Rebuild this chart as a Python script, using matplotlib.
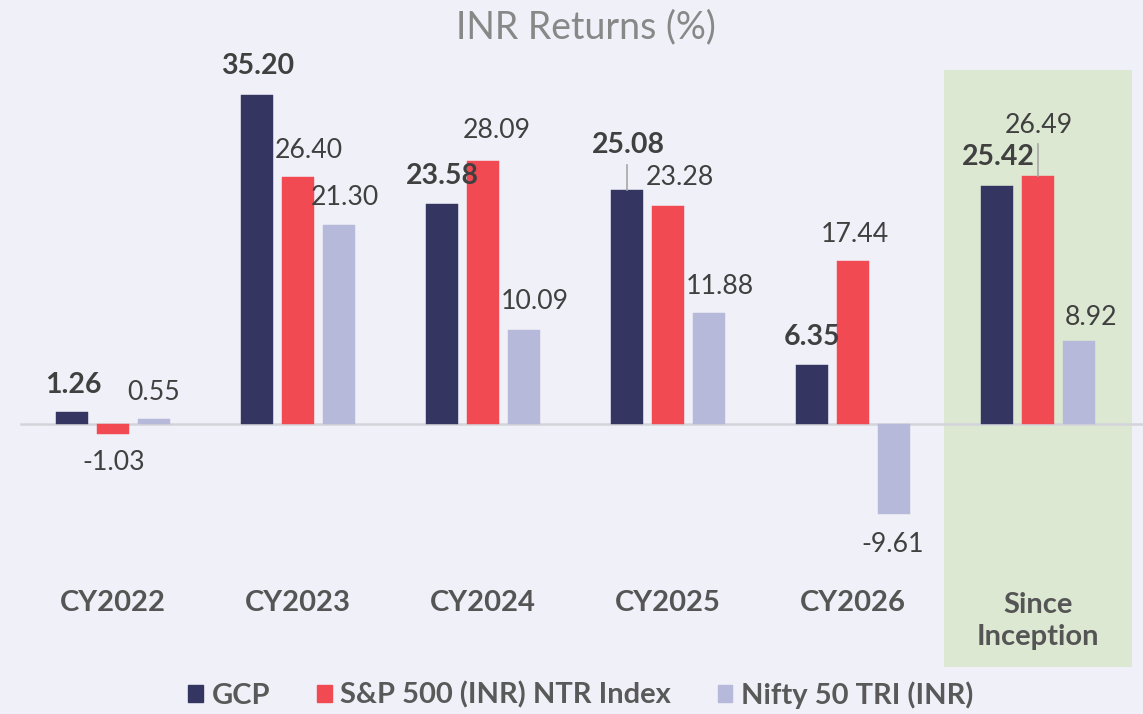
import numpy as np
import matplotlib.pyplot as plt
from matplotlib.patches import Patch, Rectangle

# --- data ---
categories = ["CY2022", "CY2023", "CY2024", "CY2025", "CY2026", "Since\nInception"]
series_names = ["GCP", "S&P 500 (INR) NTR Index", "Nifty 50 TRI (INR)"]
gcp = [1.26, 35.20, 23.58, 25.08, 6.35, 25.42]
sp500 = [-1.03, 26.40, 28.09, 23.28, 17.44, 26.49]
nifty = [0.55, 21.30, 10.09, 11.88, -9.61, 8.92]

colors = ["#343661", "#F14A52", "#B7B9DA"]
bg = "#F0F0F8"
txt = "#404040"

# label nudges in pixels (dx, distance from bar end) - hand placed like the original
nudges = [
    [(1, 27), (1, 29), (0, 28), (1, 45), (0, 28), (1, 29)],
    [(1, 29), (11, 27), (14, 31), (12, 29), (2, 26), (1, 51)],
    [(0, 26), (6, 27), (11, 28), (11, 26), (-1, 31), (12, 23)],
]
leaders = {(0, 3): 25, (1, 5): 32}  # (series, category) -> leader length px

W, H = 1143, 714
fig = plt.figure(figsize=(W / 100, H / 100), dpi=100)
fig.patch.set_facecolor(bg)
ax = fig.add_axes([0, 0, 1, 1])
ax.set_facecolor(bg)

px_per_unit = 9.35
gap = 185.0
x0_px, zero_px = 113.0, 424.0
ax.set_xlim(-x0_px / gap, (W - x0_px) / gap)
ax.set_ylim(-(H - zero_px) / px_per_unit, zero_px / px_per_unit)
ax.axis("off")

def to_data(px, py):
    return ((px - x0_px) / gap, (zero_px - py) / px_per_unit)

# highlight box around Since Inception
bx0, by0 = to_data(944, 667)
bx1, by1 = to_data(1132, 70)
ax.add_patch(Rectangle((bx0, by0), bx1 - bx0, by1 - by0, facecolor="#DCE8D2",
                       edgecolor="none", zorder=0))

# zero line
ax.axhline(0, xmin=21 / W, xmax=1.0, color="#D3D3DA", lw=1.8, zorder=1)

x = np.arange(len(categories))
width = 32 / gap
step = 41 / gap
all_series = [gcp, sp500, nifty]
for s, vals in enumerate(all_series):
    xs = x + (s - 1) * step
    ax.bar(xs, vals, width=width, color=colors[s], zorder=2,
           edgecolor=colors[s], linewidth=0.3)
    for i, v in enumerate(vals):
        dx, d = nudges[s][i]
        sign = 1 if v >= 0 else -1
        lx = xs[i] + dx / gap
        ly = v + sign * d / px_per_unit
        ax.text(lx, ly, f"{v:.2f}", ha="center", va="center",
                fontsize=20.5 if s == 0 else 19.2, color=txt, family="Lato",
                fontweight="bold" if s == 0 else "normal", zorder=3)
        if (s, i) in leaders:
            ax.plot([xs[i], xs[i]], [v, v + leaders[(s, i)] / px_per_unit],
                    color="#A6A6A6", lw=1.2, zorder=3)

# category labels
for i, c in enumerate(categories):
    _, cy = to_data(0, 603 if "\n" not in c else 621)
    ax.text(x[i], cy, c, ha="center", va="center", fontsize=21,
            fontweight="bold", color="#555555", family="Lato", linespacing=1.3)

fig.text(586 / W, 1 - 27 / H, "INR Returns (%)", ha="center", va="center",
         fontsize=27, color="#888888", family="Lato")

handles = [Patch(facecolor=c, edgecolor=c) for c in colors]
leg = fig.legend(handles, series_names, loc="center", bbox_to_anchor=(581 / W, 1 - 695 / H),
                 ncol=3, frameon=False, handlelength=0.5, handleheight=0.55,
                 handletextpad=0.3, columnspacing=1.6,
                 prop={"family": "Lato", "weight": "bold", "size": 21})
for t in leg.get_texts():
    t.set_color("#595959")

plt.savefig("out.png", dpi=100, facecolor=bg)
